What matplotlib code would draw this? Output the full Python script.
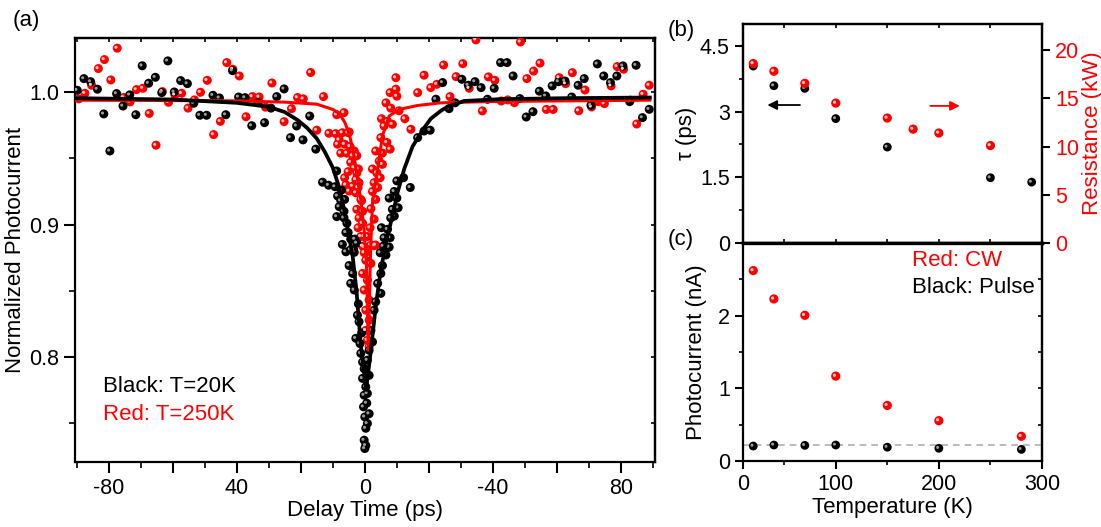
import numpy as np
import matplotlib
matplotlib.use('Agg')
import matplotlib.pyplot as plt
from matplotlib.transforms import offset_copy

plt.rcParams['font.family'] = ['Liberation Sans', 'DejaVu Sans']
plt.rcParams['mathtext.fontset'] = 'dejavusans'

# ---------------- data, panel (a) ----------------
black_x = [-89.8, -87.7, -85.6, -83.5, -81.5, -79.6, -77.5, -75.5, -73.4, -71.5,
           -69.5, -67.5, -65.4, -63.4, -61.5, -59.5, -57.5, -55.4, -53.4, -51.5,
           -49.4, -47.4, -45.4, -43.4, -41.3, -39.4, -37.4, -35.3, -33.3, -31.3,
           -29.3, -27.5, -25.2, -23.2, -21.3, -19.3, -17.2, -15.3, -13.2, -11.3,
           -9.3, -8.8, -7.3, -8.5, -7.5, -8.0, -6.3, -8.75, -6.5, -6.5,
           -5.6, -5.2, -5.9, -4.4, -3.1, -7.0, -2.5, -3.5, -4.4, -3.3,
           -5.9, -4.9, -3.8, -4.4, -3.3, -2.0, -2.3, -1.8, -1.0, -2.8,
           -1.5, -1.25, -0.7, -0.2, -0.7, 0.3, -0.2, 0.6, -0.4, 0.0,
           0.3, -0.2, 0.3, 0.0, 0.8, 1.35, 0.8, 1.35, 0.8, 1.35,
           2.4, 1.9, 2.9, 3.4, 5.0, 4.0, 5.0, 5.5, 6.6, 4.8,
           7.6, 7.0, 5.8, 6.0, 7.9, 7.1, 5.2, 8.1, 9.2, 8.6,
           10.4, 7.6, 10.0, 9.2, 14.2, 10.0, 12.1, 16.5, 18.5, 20.4,
           22.2, 24.3, 26.3, 28.2, 30.3, 32.3, 34.4, 36.3, 38.3, 40.4,
           42.4, 44.4, 46.3, 48.4, 50.4, 52.5, 54.5, 56.5, 58.5, 60.5,
           62.5, 64.6, 66.6, 68.5, 70.6, 72.6, 74.6, 76.7, 78.7, 80.6,
           82.7, 84.7, 86.7, 88.8]
black_y = [1.0015, 1.0103, 1.008, 1.0023, 0.9836, 0.9556, 0.999, 0.9896, 0.998, 0.983,
           1.020, 1.0068, 1.0113, 0.9997, 1.0237, 1.0002, 1.0088, 1.0065, 0.9917, 0.9826,
           0.9826, 0.9977, 0.9957, 0.983, 1.0163, 0.9964, 0.9959, 0.9747, 0.9921, 0.977,
           0.988, 0.9967, 1.0025, 0.9657, 0.9745, 0.964, 0.982, 0.957, 0.932, 0.9297,
           0.9286, 0.9405, 0.926, 0.9216, 0.918, 0.9135, 0.919, 0.906, 0.910, 0.905,
           0.901, 0.894, 0.894, 0.889, 0.889, 0.885, 0.886, 0.881, 0.881, 0.879,
           0.8794, 0.869, 0.863, 0.8555, 0.8505, 0.840, 0.8315, 0.8265, 0.818, 0.814,
           0.810, 0.8026, 0.796, 0.791, 0.7837, 0.7773, 0.771, 0.765, 0.7622, 0.7546,
           0.746, 0.737, 0.733, 0.7307, 0.7496, 0.757, 0.7723, 0.786, 0.7975, 0.805,
           0.8113, 0.820, 0.8353, 0.8416, 0.848, 0.8555, 0.863, 0.869, 0.877, 0.8787,
           0.883, 0.8824, 0.8837, 0.890, 0.890, 0.8964, 0.8976, 0.905, 0.9064, 0.9115,
           0.9127, 0.920, 0.920, 0.925, 0.928, 0.933, 0.9354, 0.9657, 0.9707, 0.9713,
           0.9947, 1.0073, 0.9876, 0.992, 1.0098, 1.0053, 1.008, 1.0035, 0.9947, 1.003,
           1.0224, 1.0224, 1.0123, 0.9952, 0.9813, 0.9853, 1.0008, 0.9972, 1.0048, 1.008,
           1.0085, 0.9964, 1.0053, 1.0103, 0.9902, 1.0214, 1.0123, 1.0073, 1.0123, 1.0199,
           0.9929, 1.0204, 0.9808, 0.9871]

red_x = [-89.3, -87.4, -85.3, -83.2, -81.3, -79.3, -77.3, -75.3, -73.3, -71.3,
         -69.3, -67.3, -65.2, -63.2, -61.3, -59.3, -57.2, -55.2, -53.2, -51.3,
         -49.2, -47.2, -45.1, -43.1, -41.2, -39.2, -37.1, -35.1, -33.0, -31.0,
         -29.0, -25.2, -22.9, -21.0, -19.2, -16.9, -15.0, -12.9, -11.2, -9.1,
         -8.75, -7.0, -6.5, -5.2, -4.9, -8.0, -8.5, -6.3, -4.6, -7.5,
         -5.6, -3.8, -2.5, -3.3, -4.4, -3.3, -2.0, -5.2, -2.5, -6.3,
         -2.8, -1.8, -5.9, -3.8, -2.1, -4.9, -2.8, -1.25, -1.0, -2.5,
         -0.7, -1.8, -0.7, -2.1, -1.25, -0.2, -0.7, -0.2, -0.2, 0.3,
         -0.7, 0.8, -0.2, 1.35, 0.3, 1.35, 0.3, 0.8, 1.35, 0.3,
         0.8, 1.9, 1.9, 3.4, 2.9, 1.65, 2.9, 1.9, 3.4, 2.4,
         4.0, 2.9, 4.8, 3.75, 2.4, 5.5, 4.5, 5.5, 3.4, 7.9,
         6.9, 5.0, 6.0, 8.6, 7.1, 5.2, 14.4, 12.5, 10.7, 8.1,
         6.6, 10.0, 7.9, 9.7, 9.7, 16.5, 18.5, 20.6, 22.5, 24.6,
         26.6, 28.5, 30.6, 32.6, 34.7, 36.7, 38.6, 40.6, 42.6, 44.6,
         46.7, 48.6, 50.6, 52.7, 54.7, 56.7, 58.8, 60.7, 62.7, 64.8,
         66.8, 68.75, 70.8, 72.8, 74.8, 76.9, 78.8, 80.8, 82.9, 84.9,
         86.9, 88.8]
red_y = [0.995, 0.9992, 1.0053, 1.0179, 1.0247, 1.0093, 1.0333, 0.996, 0.9927, 1.002,
         1.003, 0.984, 0.960, 1.0005, 0.9924, 0.998, 0.9992, 0.988, 0.9942, 1.0,
         1.009, 0.968, 0.978, 1.0224, 1.0174, 1.0123, 0.9815, 0.9967, 0.9964, 0.9887,
         1.007, 0.9778, 0.9876, 0.996, 0.995, 1.0149, 0.9713, 0.9967, 0.969, 0.9687,
         0.983, 0.9694, 0.9846, 0.9694, 0.970, 0.964, 0.9607, 0.9607, 0.959, 0.954,
         0.954, 0.952, 0.952, 0.9556, 0.947, 0.943, 0.942, 0.940, 0.939, 0.9354,
         0.934, 0.9316, 0.930, 0.929, 0.928, 0.9253, 0.924, 0.919, 0.918, 0.9115,
         0.910, 0.905, 0.901, 0.8976, 0.891, 0.891, 0.8837, 0.8787, 0.883, 0.873,
         0.863, 0.858, 0.8505, 0.843, 0.8353, 0.8278, 0.820, 0.8126, 0.8076, 0.879,
         0.891, 0.8845, 0.8706, 0.8845, 0.884, 0.8976, 0.904, 0.912, 0.919, 0.925,
         0.928, 0.9316, 0.9354, 0.939, 0.942, 0.9455, 0.948, 0.954, 0.9556, 0.957,
         0.962, 0.9657, 0.9745, 0.9758, 0.978, 0.980, 0.972, 0.980, 0.986, 0.988,
         0.992, 0.997, 0.9997, 1.0023, 1.011, 0.9997, 1.0129, 1.0035, 1.006, 1.0206,
         0.9967, 1.0118, 1.0216, 1.003, 1.0396, 0.9859, 1.0116, 1.009, 0.9934, 0.9942,
         0.9921, 1.038, 1.0103, 1.016, 1.022, 0.987, 0.987, 1.011, 1.0065, 1.0148,
         0.986, 1.0017, 0.9889, 0.9929, 0.9914, 1.0048, 1.0194, 1.0174, 0.994, 0.976,
         0.9985, 1.0053]

# fit curves
black_fit_x = [-90, -60, -40, -30, -25, -21, -18, -15, -12.5, -10, -8, -6.5, -5, -3.8,
               -2.6, -1.3, 0.4, 1.9, 3.4, 5.0, 6.0, 7.0, 8.6, 10.2, 12.3, 14.9, 18.5,
               20.6, 23.75, 25.8, 31, 41.5, 62, 89]
black_fit_y = [0.9955, 0.9945, 0.992, 0.989, 0.985, 0.979, 0.973, 0.965, 0.955, 0.943,
               0.928, 0.912, 0.892, 0.876, 0.850, 0.810, 0.775, 0.805, 0.838, 0.866,
               0.878, 0.891, 0.906, 0.924, 0.942, 0.959, 0.973, 0.980, 0.986, 0.989,
               0.9934, 0.9947, 0.9955, 0.996]
red_fit_x = [-90, -40, -25, -15, -10, -8, -6.2, -4.7, -3.3, -2.3, -1.2, -0.2, 0.5, 1.1,
             1.8, 2.4, 3.2, 4.0, 5.5, 7.6, 10.7, 16.5, 23.75, 40, 89]
red_fit_y = [0.994, 0.9935, 0.9925, 0.991, 0.987, 0.984, 0.977, 0.967, 0.951, 0.935,
             0.918, 0.895, 0.872, 0.805, 0.88, 0.9165, 0.93, 0.942, 0.967, 0.982,
             0.987, 0.990, 0.992, 0.993, 0.994]

delay_ticks = [-80, -40, 0, 40, 80]
delay_labels = ['-80', '40', '0', '-40', '80']

# ---------------- data, panels (b) and (c) ----------------
T_tau = [20, 40, 70, 100, 150, 250, 290]
tau = [4.04, 3.59, 3.53, 2.84, 2.19, 1.49, 1.39]
T_res = [20, 40, 70, 100, 150, 175, 200, 250]
resistance = [18.6, 17.8, 16.55, 14.5, 12.95, 11.8, 11.4, 10.1]
T_pc = [20, 40, 70, 100, 150, 200, 280]
pc_cw = [2.62, 2.23, 2.005, 1.168, 0.765, 0.555, 0.34]
pc_pulse = [0.206, 0.22, 0.215, 0.22, 0.19, 0.175, 0.16]
pulse_level = 0.215
temp_ticks = [10, 100, 200, 300]
temp_labels = ['0', '100', '200', '300']

RED = '#ff0000'
FS = 16
TFS = 15.5

fig = plt.figure(figsize=(11.01, 5.27), dpi=100)


def balls(ax, x, y, color, hi, s=42):
    # sphere-like markers: dark ball plus small light highlight
    ax.scatter(x, y, s=s, color=color, edgecolors='none', zorder=3)
    tr = offset_copy(ax.transData, fig=fig, x=-1.3, y=0.9, units='dots')
    ax.scatter(x, y, s=s * 0.12, color=hi, edgecolors='none', zorder=3.1, transform=tr)


def frame(ax, lw=1.6):
    for sp in ax.spines.values():
        sp.set_linewidth(lw)


# ---------------- panel (a) ----------------
axa = fig.add_axes([0.0681, 0.1233, 0.5268, 0.8046])
balls(axa, red_x, red_y, RED, '#ffc8c8')
axa.plot(red_fit_x, red_fit_y, color=RED, lw=2.2, zorder=3.5)
balls(axa, black_x, black_y, 'black', '#9a9a9a')
axa.plot(black_fit_x, black_fit_y, color='black', lw=2.7, zorder=3.6)
axa.set_xlim(-90.5, 90.6)
axa.set_ylim(0.7205, 1.041)
axa.set_xticks(np.arange(-80, 81, 20))
axa.set_xticklabels([delay_labels[delay_ticks.index(t)] if t in delay_ticks else ''
                     for t in np.arange(-80, 81, 20)])
axa.set_xticks(np.arange(-90, 91, 10), minor=True)
axa.set_yticks([0.8, 0.9, 1.0])
axa.set_yticklabels(['0.8', '0.9', '1.0'])
axa.set_yticks([0.75, 0.85, 0.95], minor=True)
axa.tick_params(which='major', direction='out', length=8, width=1.5, labelsize=TFS)
axa.tick_params(which='minor', direction='out', length=4, width=1.2)
frame(axa)
top = axa.secondary_xaxis('top')
top.set_xticks(np.arange(-80, 81, 20))
top.set_xticks(np.arange(-90, 91, 10), minor=True)
top.tick_params(which='both', direction='in', length=3, width=1.2, labeltop=False)
top.spines['top'].set_linewidth(1.6)
rgt = axa.secondary_yaxis('right')
rgt.set_yticks([0.8, 0.9, 1.0])
rgt.set_yticks([0.75, 0.85, 0.95], minor=True)
rgt.tick_params(which='both', direction='in', length=3, width=1.2, labelright=False)
rgt.spines['right'].set_linewidth(1.6)
axa.set_xlabel('Delay Time (ps)', fontsize=FS, labelpad=1)
axa.set_ylabel('Normalized Photocurrent', fontsize=FS, labelpad=2)
axa.text(0.048, 0.177, 'Black: T=20K', transform=axa.transAxes, fontsize=FS,
         color='black', va='center')
axa.text(0.048, 0.111, 'Red: T=250K', transform=axa.transAxes, fontsize=FS,
         color=RED, va='center')
fig.text(0.0115, 0.962, '(a)', fontsize=FS, va='center')

# ---------------- panel (b) ----------------
axb = fig.add_axes([0.6748, 0.5389, 0.2716, 0.4156])
axr = axb.twinx()
balls(axb, T_tau, tau, 'black', '#9a9a9a', s=40)
balls(axr, T_res, resistance, RED, '#ffc8c8', s=44)
axb.set_xlim(10, 300)
axb.set_ylim(0, 5.0)
axr.set_ylim(0, 22.7)
axb.set_yticks([0, 1.5, 3, 4.5])
axb.set_yticklabels(['0', '1.5', '3', '4.5'])
axb.set_yticks([0.75, 2.25, 3.75], minor=True)
axb.set_xticks(temp_ticks)
axb.set_xticks([50, 150, 250], minor=True)
axb.tick_params(axis='x', which='both', direction='in', top=True, labelbottom=False,
                length=3, width=1.2)
axb.tick_params(axis='y', which='major', direction='out', length=6, width=1.5, labelsize=TFS)
axb.tick_params(axis='y', which='minor', direction='out', length=3, width=1.2)
axr.set_yticks([0, 5, 10, 15, 20])
axr.tick_params(axis='y', direction='out', length=6, width=1.5, labelsize=TFS,
                labelcolor=RED)
frame(axb)
frame(axr)
axb.spines['bottom'].set_linewidth(2.4)
axb.set_ylabel('τ (ps)', fontsize=FS, labelpad=2)
axr.set_ylabel('Resistance (kW)', fontsize=FS, color=RED, labelpad=2)
axb.annotate('', xy=(31, 3.15), xytext=(68, 3.15),
             arrowprops=dict(arrowstyle='-|>', color='black', lw=1.3, mutation_scale=14))
axb.annotate('', xy=(223, 3.13), xytext=(189, 3.13),
             arrowprops=dict(arrowstyle='-|>', color=RED, lw=1.3, mutation_scale=14))
fig.text(0.6065, 0.943, '(b)', fontsize=FS, va='center')

# ---------------- panel (c) ----------------
axc = fig.add_axes([0.6748, 0.1252, 0.2716, 0.4137])
axc.axhline(pulse_level, color='#b0b0b0', lw=1.2, ls=(0, (4, 3)), zorder=1)
balls(axc, T_pc, pc_cw, RED, '#ffc8c8', s=44)
balls(axc, T_pc, pc_pulse, 'black', '#9a9a9a', s=40)
axc.set_xlim(10, 300)
axc.set_ylim(0, 3.0)
axc.set_yticks([0, 1, 2])
axc.set_yticks([0.5, 1.5, 2.5], minor=True)
axc.set_xticks(temp_ticks)
axc.set_xticklabels(temp_labels)
axc.set_xticks([50, 150, 250], minor=True)
axc.tick_params(which='major', direction='out', length=6, width=1.5, labelsize=TFS)
axc.tick_params(which='minor', direction='out', length=3, width=1.2)
frame(axc)
axc.spines['top'].set_linewidth(2.4)
rc = axc.secondary_yaxis('right')
rc.set_yticks([0, 1, 2])
rc.set_yticks([0.5, 1.5, 2.5], minor=True)
rc.tick_params(which='both', direction='in', length=3, width=1.2, labelright=False)
rc.spines['right'].set_linewidth(1.6)
axc.set_xlabel('Temperature (K)', fontsize=FS, labelpad=1)
axc.set_ylabel('Photocurrent (nA)', fontsize=FS, labelpad=8)
axc.text(0.565, 0.922, 'Red: CW', transform=axc.transAxes, fontsize=FS, color=RED,
         va='center')
axc.text(0.565, 0.794, 'Black: Pulse', transform=axc.transAxes, fontsize=FS,
         color='black', va='center')
fig.text(0.6065, 0.545, '(c)', fontsize=FS, va='center')

fig.savefig('out.png', dpi=100)
